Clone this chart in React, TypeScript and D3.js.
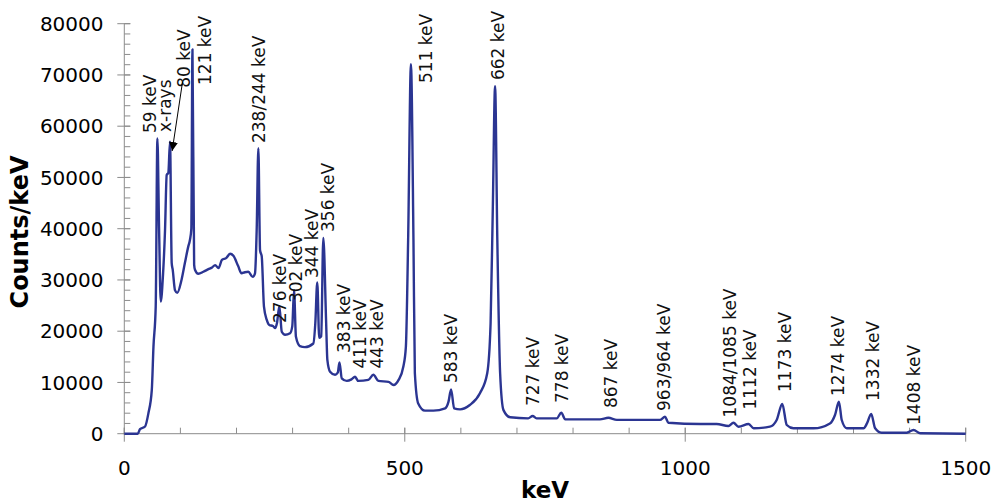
import React from "react";
import * as d3 from "d3";

// Spectrum samples (keV, counts/keV)
const energy = [
  0, 24, 28, 37, 43, 49, 52, 56, 59, 62, 65, 69, 72.6, 75.6, 78.5, 81.5, 84.5, 86.3, 90.4, 94.5,
  102, 108, 114, 117, 119.5, 121.5, 124.5, 126, 132, 141, 150, 156, 162, 168, 174, 182, 188.5, 194.5,
  203, 209, 215, 221, 229, 233, 236, 239, 242, 245, 249, 254, 258.5, 265, 269, 272, 276.5, 280.7,
  286.6, 295.5, 299.5, 302.6, 306, 313, 322, 337, 340.5, 344, 347.5, 351, 354.8, 359.7, 362,
  366.8, 375.7, 380.5, 383.6, 387.7, 396.6, 405, 411.4, 417, 435, 444, 453, 471, 480, 489, 497.5,
  502, 506, 511, 515.5, 518, 524, 536, 551, 572, 578, 582.6, 588, 598.6, 616, 634, 647, 653, 657,
  661, 665, 670, 676, 688, 720, 728, 735, 771, 779, 786, 848, 863, 878, 955, 964, 970, 1027, 1056,
  1077, 1086, 1095, 1113, 1122, 1151, 1163, 1173, 1181, 1193, 1229, 1258, 1267, 1274, 1279, 1288,
  1318, 1324, 1331.5, 1338.6, 1350, 1395, 1407, 1419, 1500,
];
const counts = [
  0, 0, 900, 1400, 4000, 8500, 17000, 24800, 57600, 40000, 25800, 31000, 39700, 50500, 50900, 57000, 33300, 32000, 28000, 27500,
  30000, 33300, 36500, 37800, 40000, 75000, 33000, 32000, 31200, 31600, 32100, 32400, 32900, 32300, 33900, 34300, 35100, 34700,
  32700, 31300, 31500, 31600, 30600, 31300, 39700, 55700, 35800, 34600, 24800, 22200, 21200, 21000, 20600, 21500, 24900, 19900,
  19300, 19600, 21000, 28000, 18900, 17100, 16900, 17600, 21500, 29500, 18700, 19000, 38200, 22200, 14400,
  12100, 11500, 11900, 13900, 10800, 10300, 10600, 11100, 10300, 10500, 11500, 10300, 10100, 9500, 10500, 13100,
  17000, 37800, 72100, 37800, 11800, 5900, 4500, 4500, 4950, 6250, 8650, 4950, 4750, 5600, 7900, 11800, 21500, 44300,
  67800, 37800, 11800, 4600, 3200, 3000, 3450, 3000, 3000, 4100, 2800, 2800, 3100, 2700, 2700, 3300, 2150, 1900, 1900,
  1500, 2150, 1370, 1900, 1050, 1370, 2670, 5800, 1700, 1050, 1050, 2000, 3650, 6250, 2670, 1050,
  1050, 2000, 3850, 1050, 200, 200, 720, 80, 0,
];

const xTickValues = [0, 500, 1000, 1500];
const xMinorTickValues = d3.range(0, 1501, 100);
const yTickValues = [0, 10000, 20000, 30000, 40000, 50000, 60000, 70000, 80000];
const yMinorTickValues = d3.range(0, 80001, 2000);

// Peak annotations: text, anchor energy (keV), anchor level (counts/keV) of the label's start
const peakLabels = [
  "59 keV", "x-rays", "80 keV", "121 keV", "238/244 keV", "276 keV", "302 keV", "344 keV", "356 keV",
  "383 keV", "411 keV", "443 keV", "511 keV", "662 keV", "583 keV", "727 keV", "778 keV", "867 keV",
  "963/964 keV", "1084/1085 keV", "1112 keV", "1173 keV", "1274 keV", "1332 keV", "1408 keV",
];
const peakLabelKeV = [
  56.5, 83, 117, 154.6, 250, 288.3, 316.9, 345.4, 374,
  401.6, 430, 460.4, 548.7, 677, 593.3, 739.5, 790.3, 878.6,
  973, 1090.8, 1126.4, 1188.8, 1283.3, 1345.7, 1418.8,
];
const peakLabelLevel = [
  58670, 58870, 67500, 68040, 56720, 21600, 25500, 30380, 39360,
  15750, 12720, 12720, 68430, 69010, 9890, 5400, 5990, 5010,
  4430, 3160, 4720, 8140, 7360, 6380, 1700,
];
// Arrow from the "80 keV" label to the x-ray peak (keV, counts/keV)
const arrowFrom = [103.8, 68630];
const arrowTo = [85.3, 55170];

export default function App() {
  const W = 997;
  const H = 503;
  const x = d3.scaleLinear().domain([0, 1500]).range([124.3, 965.7]);
  const y = d3.scaleLinear().domain([0, 80000]).range([433.7, 23.7]);
  const pts: [number, number][] = energy.map((e, i) => [e, counts[i]]);
  const line = d3
    .line<[number, number]>()
    .x((d) => x(d[0]))
    .y((d) => y(d[1]))
    .curve(d3.curveMonotoneX);

  const axisColor = "#8c8c8c";
  const font = "'DejaVu Sans', Verdana, sans-serif";

  return (
    <svg
      width={W}
      height={H}
      style={{ position: "absolute", left: 0, top: 0, background: "#fff" }}
      fontFamily={font}
    >
      <defs>
        <marker id="arrowhead" viewBox="0 0 10 10" refX="10" refY="5" markerWidth="9" markerHeight="9" orient="auto" markerUnits="userSpaceOnUse">
          <path d="M0,0 L10,5 L0,10 z" fill="#000" />
        </marker>
      </defs>

      {/* y axis */}
      <line x1={x(0)} x2={x(0)} y1={y(0)} y2={y(80000)} stroke={axisColor} strokeWidth={1} />
      {yMinorTickValues.map((v) => (
        <line key={"ym" + v} x1={x(0)} x2={x(0) + 6} y1={y(v)} y2={y(v)} stroke={axisColor} strokeWidth={1} />
      ))}
      {yTickValues.map((v) => (
        <g key={"y" + v}>
          <line x1={x(0) - 7} x2={x(0) + 6} y1={y(v)} y2={y(v)} stroke={axisColor} strokeWidth={1} />
          <text x={103.5} y={y(v)} dy="0.36em" textAnchor="end" fontSize={20} fill="#000">
            {v}
          </text>
        </g>
      ))}

      {/* x axis */}
      <line x1={x(0) - 1.5} x2={x(1500)} y1={y(0)} y2={y(0)} stroke={axisColor} strokeWidth={1} />
      {xMinorTickValues.map((v) => (
        <line key={"xm" + v} x1={x(v)} x2={x(v)} y1={y(0)} y2={y(0) - 6} stroke={axisColor} strokeWidth={1} />
      ))}
      {xTickValues.map((v) => (
        <g key={"x" + v}>
          <line x1={x(v)} x2={x(v)} y1={y(0) - 6} y2={y(0) + 8} stroke={axisColor} strokeWidth={1} />
          <text x={x(v)} y={475} textAnchor="middle" fontSize={20} fill="#000">
            {v}
          </text>
        </g>
      ))}

      {/* axis titles */}
      <text x={545} y={498} textAnchor="middle" fontSize={23} fontWeight="bold" fill="#000">
        keV
      </text>
      <text
        transform={`translate(28,232) rotate(-90)`}
        textAnchor="middle"
        fontSize={24}
        fontWeight="bold"
        fill="#000"
      >
        Counts/keV
      </text>

      {/* spectrum */}
      <path d={line(pts) ?? ""} fill="none" stroke="#2b3592" strokeWidth={2.4} strokeLinejoin="round" />

      {/* peak labels */}
      {peakLabels.map((t, i) => (
        <text
          key={"pl" + i}
          transform={`translate(${x(peakLabelKeV[i])},${y(peakLabelLevel[i])}) rotate(-90)`}
          textAnchor="start"
          fontSize={17}
          fill="#111"
        >
          {t}
        </text>
      ))}

      {/* arrow */}
      <line
        x1={x(arrowFrom[0])}
        y1={y(arrowFrom[1])}
        x2={x(arrowTo[0])}
        y2={y(arrowTo[1])}
        stroke="#000"
        strokeWidth={1}
        markerEnd="url(#arrowhead)"
      />
    </svg>
  );
}
